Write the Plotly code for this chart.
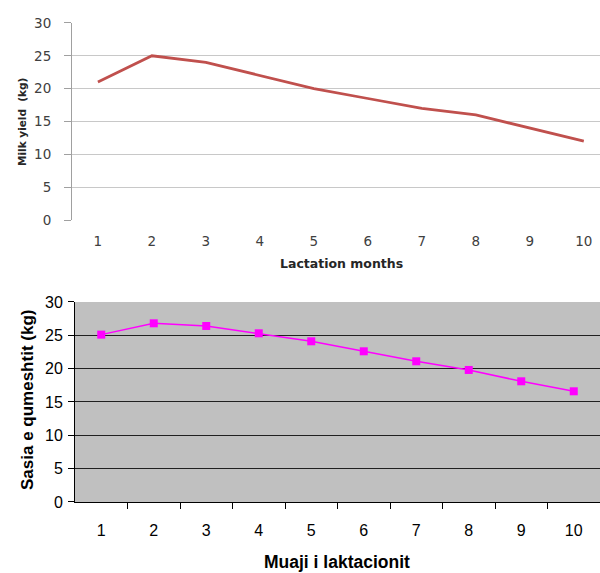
import plotly.graph_objects as go

months = [1, 2, 3, 4, 5, 6, 7, 8, 9, 10]
month_labels = ["1", "2", "3", "4", "5", "6", "7", "8", "9", "10"]
milk_yield_top = [21, 25, 24, 22, 20, 18.5, 17, 16, 14, 12]
milk_yield_bottom = [25.1, 26.8, 26.4, 25.3, 24.1, 22.6, 21.1, 19.8, 18.1, 16.6]
y_ticks = [0, 5, 10, 15, 20, 25, 30]

top_x_title = "Lactation months"
top_y_title = "Milk yield&nbsp; (kg)"
bot_x_title = "Muaji i laktacionit"
bot_y_title = "Sasia e qumeshtit (kg)"

fig = go.Figure()

fig.add_trace(go.Scatter(
    x=months, y=milk_yield_top, mode="lines",
    line=dict(color="#C0504D", width=2.75),
    xaxis="x", yaxis="y", showlegend=False,
))

fig.add_trace(go.Scatter(
    x=months, y=milk_yield_bottom, mode="lines+markers",
    line=dict(color="#FF00FF", width=1.5),
    marker=dict(symbol="square", size=8, color="#FF00FF"),
    xaxis="x2", yaxis="y2", showlegend=False,
))

top_font = dict(family="DejaVu Sans, sans-serif", size=13.5, color="#404040")
bot_font = dict(family="Liberation Sans, Arial, sans-serif", size=16, color="#000000")

fig.update_layout(
    width=600, height=573,
    margin=dict(l=0, r=0, t=0, b=0),
    paper_bgcolor="white",
    plot_bgcolor="white",
    xaxis=dict(
        domain=[0.12, 1.0], anchor="y", automargin=False,
        range=[0.52, 10.3],
        tickvals=months, ticktext=month_labels,
        showgrid=False, zeroline=False,
        showline=False, ticks="",
        tickfont=top_font, ticklabelstandoff=11,
    ),
    yaxis=dict(
        domain=[0.616, 0.960], anchor="x", automargin=False,
        range=[0, 30], tickvals=y_ticks,
        showgrid=True, gridcolor="#C8C8C8", gridwidth=1,
        zeroline=False,
        showline=True, linecolor="#A0A0A0", linewidth=1,
        ticks="outside", ticklen=7, tickcolor="#A0A0A0",
        tickfont=top_font, ticklabelstandoff=10,
    ),
    xaxis2=dict(
        domain=[0.125, 1.0], anchor="y2", automargin=False,
        range=[0.5, 10.5],
        tickvals=months, ticktext=month_labels,
        showgrid=False, zeroline=False,
        showline=True, linecolor="#000000", linewidth=1,
        ticks="", tickfont=bot_font, ticklabelstandoff=14,
        minor=dict(tickvals=[1.5, 2.5, 3.5, 4.5, 5.5, 6.5, 7.5, 8.5, 9.5],
                   ticks="outside", ticklen=6, tickcolor="#000000", showgrid=False),
    ),
    yaxis2=dict(
        domain=[0.124, 0.473], anchor="x2", automargin=False,
        range=[0, 30], tickvals=y_ticks,
        showgrid=True, gridcolor="#202020", gridwidth=1,
        zeroline=False,
        showline=True, linecolor="#000000", linewidth=1,
        ticks="outside", ticklen=6, tickcolor="#000000",
        tickfont=bot_font, ticklabelstandoff=2,
    ),
    shapes=[dict(type="rect", xref="x2 domain", yref="y2 domain",
                 x0=0, x1=1, y0=0, y1=1, fillcolor="#C0C0C0",
                 line=dict(width=0), layer="below")],
    annotations=[
        dict(text="<b>" + top_x_title + "</b>", xref="paper", yref="paper",
             x=341 / 600, y=1 - 263 / 573, xanchor="center", yanchor="middle",
             showarrow=False,
             font=dict(family="DejaVu Sans, sans-serif", size=12.5, color="#262626")),
        dict(text="<b>" + top_y_title + "</b>", xref="paper", yref="paper",
             x=22 / 600, y=1 - 122 / 573, xanchor="center", yanchor="middle",
             showarrow=False, textangle=-90,
             font=dict(family="DejaVu Sans, sans-serif", size=10.5, color="#262626")),
        dict(text="<b>" + bot_x_title + "</b>", xref="paper", yref="paper",
             x=337 / 600, y=1 - 562 / 573, xanchor="center", yanchor="middle",
             showarrow=False,
             font=dict(family="Liberation Sans, Arial, sans-serif", size=17.5, color="#000000")),
        dict(text="<b>" + bot_y_title + "</b>", xref="paper", yref="paper",
             x=27 / 600, y=1 - 400 / 573, xanchor="center", yanchor="middle",
             showarrow=False, textangle=-90,
             font=dict(family="Liberation Sans, Arial, sans-serif", size=17, color="#000000")),
    ],
)

fig.write_html("out.html")
